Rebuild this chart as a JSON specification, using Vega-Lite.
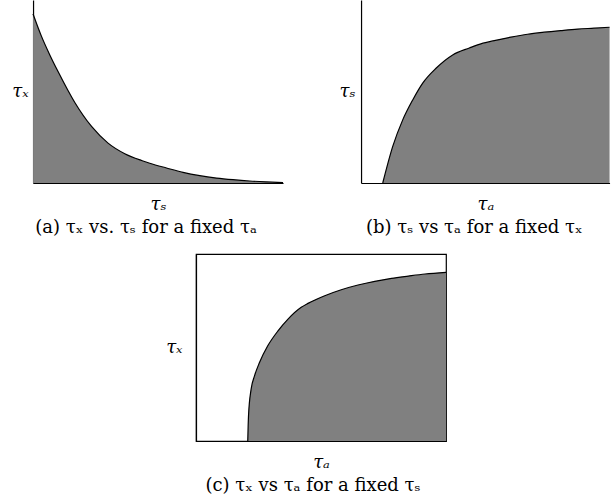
{
  "$schema": "https://vega.github.io/schema/vega-lite/v6.json",
  "padding": {"left": 11, "top": 0, "right": 0, "bottom": 0},
  "background": "white",
  "datasets": {
    "a": [
      {"x": 0, "y": 92.4}, {"x": 3.3, "y": 80.4}, {"x": 6.7, "y": 70}, {"x": 10, "y": 60.9},
      {"x": 16.7, "y": 44.0}, {"x": 23.4, "y": 30.9}, {"x": 30, "y": 21.8}, {"x": 36.7, "y": 16.0},
      {"x": 43.4, "y": 12.3}, {"x": 46.7, "y": 10.8}, {"x": 53.4, "y": 8.2}, {"x": 60, "y": 5.8},
      {"x": 66.7, "y": 4.0}, {"x": 73.4, "y": 2.7}, {"x": 80, "y": 1.8}, {"x": 86.7, "y": 1.1},
      {"x": 93.4, "y": 0.6}, {"x": 100, "y": 0.2}
    ],
    "b": [
      {"x": 8.73, "y": 0}, {"x": 12.75, "y": 20.0}, {"x": 16.77, "y": 34.5}, {"x": 20.79, "y": 45.4},
      {"x": 24.81, "y": 54.6}, {"x": 30.16, "y": 62.7}, {"x": 36.87, "y": 70.0}, {"x": 43.59, "y": 73.8},
      {"x": 46.9, "y": 75.5}, {"x": 53.6, "y": 77.8}, {"x": 60.3, "y": 79.7}, {"x": 67.0, "y": 81.3},
      {"x": 73.7, "y": 82.4}, {"x": 80.4, "y": 83.3}, {"x": 87.1, "y": 84.1}, {"x": 93.8, "y": 84.6},
      {"x": 100, "y": 85.1}
    ],
    "c": [
      {"x": 20.7, "y": 0}, {"x": 21.0, "y": 13.4}, {"x": 22.05, "y": 27.7}, {"x": 23.4, "y": 34.8},
      {"x": 25.4, "y": 42.0}, {"x": 28.7, "y": 50.9}, {"x": 32.8, "y": 58.9}, {"x": 36.8, "y": 65.2},
      {"x": 42.1, "y": 71.5}, {"x": 44.8, "y": 73.6}, {"x": 51.5, "y": 77.7}, {"x": 58.1, "y": 80.9},
      {"x": 64.8, "y": 83.4}, {"x": 71.5, "y": 85.4}, {"x": 78.2, "y": 87.0}, {"x": 84.9, "y": 88.2},
      {"x": 91.6, "y": 89.3}, {"x": 100, "y": 90.2}
    ]
  },
  "vconcat": [
    {
      "hconcat": [
        {
          "width": 250,
          "height": 183,
          "data": {"name": "a"},
          "title": {"text": "(a) τₓ vs. τₛ for a fixed τₐ", "dx": -12, "font": "DejaVu Serif", "fontSize": 18, "fontWeight": "normal", "offset": 6},
          "encoding": {
            "x": {"field": "x", "type": "quantitative", "scale": {"domain": [0, 100], "nice": false}, "axis": {"title": "τₛ"}},
            "y": {"field": "y", "type": "quantitative", "scale": {"domain": [0, 100], "nice": false}, "axis": {"title": "τₓ"}}
          },
          "layer": [
            {"mark": {"type": "area", "color": "#808080", "interpolate": "monotone"}},
            {"mark": {"type": "line", "color": "black", "strokeWidth": 1.2, "interpolate": "monotone"}},
            {"data": {"values": [{}]}, "mark": {"type": "rule", "color": "black", "strokeWidth": 1.2}, "encoding": {"x": {"datum": 100}, "y": null}}
          ]
        },
        {
          "width": 248.5,
          "height": 183,
          "data": {"name": "b"},
          "title": {"text": "(b) τₛ vs τₐ for a fixed τₓ", "dx": -11, "font": "DejaVu Serif", "fontSize": 18, "fontWeight": "normal", "offset": 6},
          "encoding": {
            "x": {"field": "x", "type": "quantitative", "scale": {"domain": [0, 100], "nice": false}, "axis": {"title": "τₐ"}},
            "y": {"field": "y", "type": "quantitative", "scale": {"domain": [0, 100], "nice": false}, "axis": {"title": "τₛ", "titlePadding": 6}}
          },
          "layer": [
            {"mark": {"type": "area", "color": "#808080", "interpolate": "monotone"}},
            {"mark": {"type": "line", "color": "black", "strokeWidth": 1.2, "interpolate": "monotone"}}
          ]
        }
      ],
      "spacing": 52
    },
    {
      "width": 250,
      "height": 187,
      "data": {"name": "c"},
      "view": {"stroke": "black", "strokeWidth": 1.2},
      "title": {"text": "(c) τₓ vs τₐ for a fixed τₛ", "dx": -8, "font": "DejaVu Serif", "fontSize": 18, "fontWeight": "normal", "offset": 6},
      "encoding": {
        "x": {"field": "x", "type": "quantitative", "scale": {"domain": [0, 100], "nice": false}, "axis": {"title": "τₐ"}},
        "y": {"field": "y", "type": "quantitative", "scale": {"domain": [0, 100], "nice": false}, "axis": {"title": "τₓ", "titlePadding": 14}}
      },
      "layer": [
        {"mark": {"type": "area", "color": "#808080", "interpolate": "monotone"}},
        {"mark": {"type": "line", "color": "black", "strokeWidth": 1.2, "interpolate": "monotone"}}
      ]
    }
  ],
  "spacing": 16,
  "center": true,
  "config": {
    "font": "DejaVu Serif",
    "view": {"stroke": null},
    "axis": {
      "ticks": false,
      "labels": false,
      "grid": false,
      "domainColor": "black",
      "domainWidth": 1.2,
      "titleFont": "DejaVu Serif",
      "titleFontSize": 18,
      "titleFontStyle": "italic",
      "titleFontWeight": "normal",
      "titleColor": "black"
    },
    "axisX": {"titlePadding": 12, "titleBaseline": "top"},
    "axisY": {"titleAngle": 0, "titleAlign": "right", "titleBaseline": "middle", "titlePadding": 5},
    "title": {
      "orient": "bottom",
      "frame": "group",
      "anchor": "middle",
      "color": "black"
    }
  }
}
